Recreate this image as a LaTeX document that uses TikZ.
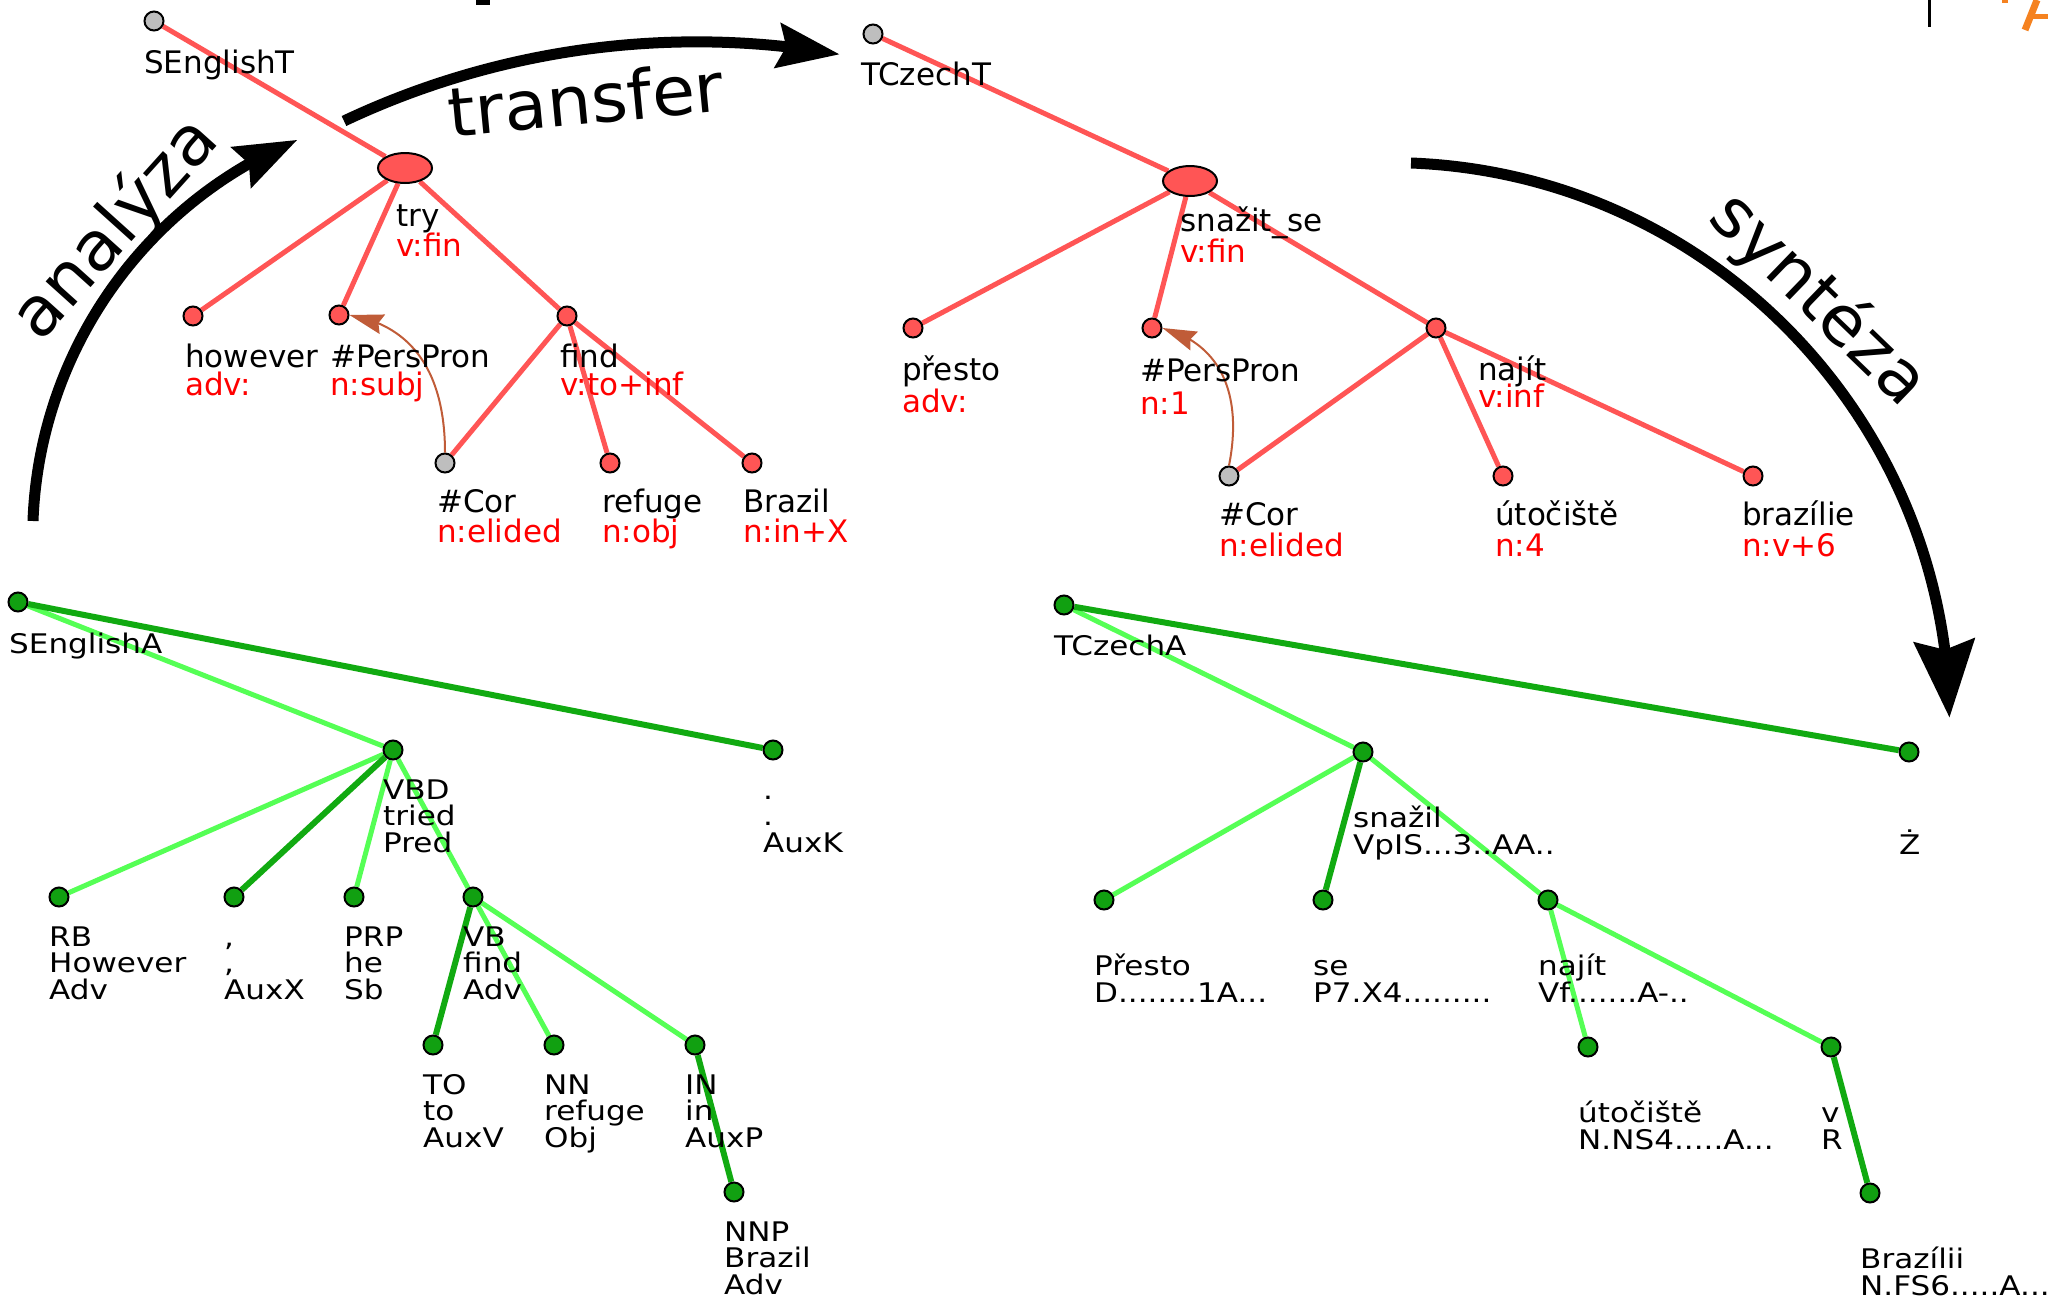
\documentclass[tikz,border=0pt]{standalone}
\usepackage{fontspec}
\setmainfont{DejaVu Sans}
\newfontfamily\afont{DejaVu Sans}[FakeStretch=1.15]
\newfontfamily\bigfont{DejaVu Sans}[FakeStretch=1.03]
\usetikzlibrary{arrows.meta,bending,shapes.geometric}
\pgfdeclarelayer{bg}
\pgfsetlayers{bg,main}
\definecolor{tred}{RGB}{255,85,85}
\definecolor{lgreen}{RGB}{85,255,85}
\definecolor{dgreen}{RGB}{17,170,17}
\definecolor{nfill}{RGB}{17,160,17}
\definecolor{ngray}{RGB}{190,190,190}
\definecolor{brownA}{RGB}{192,92,56}
\definecolor{orangeA}{RGB}{245,130,32}
\tikzset{
 tn/.style={circle,draw=black,line width=2pt,fill=tred,minimum size=19pt,inner sep=0pt},
 tg/.style={tn,fill=ngray},
 te/.style={ellipse,draw=black,line width=2pt,fill=tred,minimum width=54pt,minimum height=30pt,inner sep=0pt},
 an/.style={circle,draw=black,line width=2pt,fill=nfill,minimum size=19pt,inner sep=0pt},
 redge/.style={draw=tred,line width=5pt},
 ledge/.style={draw=lgreen,line width=5pt},
 dedge/.style={draw=dgreen,line width=6pt},
 tl/.style={anchor=base west,inner sep=0pt,font=\fontsize{31}{31}\selectfont},
 tlr/.style={tl,text=red},
 al/.style={anchor=base west,inner sep=0pt,font=\afont\fontsize{27}{27}\selectfont},
 big/.style={inner sep=0pt,font=\bigfont\fontsize{68}{68}\selectfont},
 bigarrow/.style={line width=11pt,-{Stealth[length=62pt,width=44pt,inset=8pt]}},
 bigarrowB/.style={line width=11pt,-{Stealth[length=77pt,width=60pt,inset=9pt]}},
 corefarrow/.style={draw=brownA,line width=2pt,-{Stealth[length=34pt,width=20pt,inset=4pt]}},
}
\newcommand\alab[4]{%
 \node[al] (#1-a) at ([shift={(-10,49)}]#1.center) {#2};
 \node[al] (#1-b) at ([shift={(-10,75.5)}]#1.center) {#3};
 \node[al] (#1-c) at ([shift={(-10,102)}]#1.center) {#4};}
\newcommand\clab[3]{%
 \node[al] (#1-b) at ([shift={(-10,75.5)}]#1.center) {#2};
 \node[al] (#1-c) at ([shift={(-10,102)}]#1.center) {#3};}
\begin{document}
\begin{tikzpicture}[x=1pt,y=-1pt]
\useasboundingbox (0,0) rectangle (2048,1299);

% ---------- English tectogrammatical tree ----------
\node[tg] (eT) at (154,21) {};
\node[te] (try) at (405,168) {};
\node[tn] (how) at (193,316) {};
\node[tn] (pp1) at (339,315) {};
\node[tn] (find) at (567,316) {};
\node[tg] (cor1) at (445,463) {};
\node[tn] (ref) at (610,463) {};
\node[tn] (braz1) at (752,463) {};
\begin{pgfonlayer}{bg}
\draw[redge] (eT) -- (try);
\draw[redge] (try) -- (how);
\draw[redge] (try) -- (pp1);
\draw[redge] (try) -- (find);
\draw[redge] (find) -- (cor1);
\draw[redge] (find) -- (ref);
\draw[redge] (find) -- (braz1);
\end{pgfonlayer}
\draw[corefarrow] (cor1.north) .. controls (445,370) and (410,325) .. (pp1.east);
\node[tl] (eT-l1) at (144,73) {SEnglishT};
\node[tl] (try-l1) at (396,226) {try};
\node[tlr] (try-l2) at (396,256) {v:fin};
\node[tl] (how-l1) at (185,367) {however};
\node[tlr] (how-l2) at (185,395) {adv:};
\node[tl] (pp1-l1) at (330,367) {\#PersPron};
\node[tlr] (pp1-l2) at (330,395) {n:subj};
\node[tl] (find-l1) at (560,367) {find};
\node[tlr] (find-l2) at (560,395) {v:to+inf};
\node[tl] (cor1-l1) at (437,512) {\#Cor};
\node[tlr] (cor1-l2) at (437,542) {n:elided};
\node[tl] (ref-l1) at (602,512) {refuge};
\node[tlr] (ref-l2) at (602,542) {n:obj};
\node[tl] (braz1-l1) at (743,512) {Brazil};
\node[tlr] (braz1-l2) at (743,542) {n:in+X};

% ---------- Czech tectogrammatical tree ----------
\node[tg] (cT) at (873,34) {};
\node[te] (snaz) at (1190,181) {};
\node[tn] (pres) at (913,328) {};
\node[tn] (pp2) at (1152,328) {};
\node[tn] (najit) at (1436,328) {};
\node[tg] (cor2) at (1229,476) {};
\node[tn] (utoc) at (1503,476) {};
\node[tn] (brazl) at (1753,476) {};
\begin{pgfonlayer}{bg}
\draw[redge] (cT) -- (snaz);
\draw[redge] (snaz) -- (pres);
\draw[redge] (snaz) -- (pp2);
\draw[redge] (snaz) -- (najit);
\draw[redge] (najit) -- (cor2);
\draw[redge] (najit) -- (utoc);
\draw[redge] (najit) -- (brazl);
\end{pgfonlayer}
\draw[corefarrow] (cor2.north) .. controls (1242,400) and (1225,345) .. (pp2.east);
\node[tl] (cT-l1) at (861,85) {TCzechT};
\node[tl] (snaz-l1) at (1180,231) {snažit\_se};
\node[tlr] (snaz-l2) at (1180,262) {v:fin};
\node[tl] (pres-l1) at (902,380) {přesto};
\node[tlr] (pres-l2) at (902,412) {adv:};
\node[tl] (pp2-l1) at (1140,381) {\#PersPron};
\node[tlr] (pp2-l2) at (1140,414) {n:1};
\node[tl] (najit-l1) at (1478,380) {najít};
\node[tlr] (najit-l2) at (1478,407) {v:inf};
\node[tl] (cor2-l1) at (1219,525) {\#Cor};
\node[tlr] (cor2-l2) at (1219,556) {n:elided};
\node[tl] (utoc-l1) at (1495,525) {útočiště};
\node[tlr] (utoc-l2) at (1495,556) {n:4};
\node[tl] (brazl-l1) at (1742,525) {brazílie};
\node[tlr] (brazl-l2) at (1742,556) {n:v+6};

% ---------- English analytical tree ----------
\node[an] (eA) at (18,602) {};
\node[an] (vbd) at (393,750) {};
\node[an] (auxk) at (773,750) {};
\node[an] (rb) at (59,897) {};
\node[an] (comma) at (234,897) {};
\node[an] (prp) at (354,897) {};
\node[an] (vb) at (473,897) {};
\node[an] (to) at (433,1045) {};
\node[an] (nn) at (554,1045) {};
\node[an] (in) at (695,1045) {};
\node[an] (nnp) at (734,1192) {};
\begin{pgfonlayer}{bg}
\draw[ledge] (eA) -- (vbd);
\draw[dedge] (eA) -- (auxk);
\draw[ledge] (vbd) -- (rb);
\draw[dedge] (vbd) -- (comma);
\draw[ledge] (vbd) -- (prp);
\draw[ledge] (vbd) -- (vb);
\draw[dedge] (vb) -- (to);
\draw[ledge] (vb) -- (nn);
\draw[ledge] (vb) -- (in);
\draw[dedge] (in) -- (nnp);
\end{pgfonlayer}
\node[al] (eA-l) at (9,653) {SEnglishA};
\alab{vbd}{VBD}{tried}{Pred}
\alab{auxk}{.}{.}{AuxK}
\alab{rb}{RB}{However}{Adv}
\alab{comma}{,}{,}{AuxX}
\alab{prp}{PRP}{he}{Sb}
\alab{vb}{VB}{find}{Adv}
\alab{to}{TO}{to}{AuxV}
\alab{nn}{NN}{refuge}{Obj}
\alab{in}{IN}{in}{AuxP}
\alab{nnp}{NNP}{Brazil}{Adv}

% ---------- Czech analytical tree ----------
\node[an] (cA) at (1064,605) {};
\node[an] (snazil) at (1363,752) {};
\node[an] (zz) at (1909,752) {};
\node[an] (Presto) at (1104,900) {};
\node[an] (se) at (1323,900) {};
\node[an] (najit2) at (1548,900) {};
\node[an] (utoc2) at (1588,1047) {};
\node[an] (vv) at (1831,1047) {};
\node[an] (Brazilii) at (1870,1193) {};
\begin{pgfonlayer}{bg}
\draw[ledge] (cA) -- (snazil);
\draw[dedge] (cA) -- (zz);
\draw[ledge] (snazil) -- (Presto);
\draw[dedge] (snazil) -- (se);
\draw[ledge] (snazil) -- (najit2);
\draw[ledge] (najit2) -- (utoc2);
\draw[ledge] (najit2) -- (vv);
\draw[dedge] (vv) -- (Brazilii);
\end{pgfonlayer}
\node[al] (cA-l) at (1054,655) {TCzechA};
\clab{snazil}{snažil}{VpIS...3..AA..}
\node[al] (zz-c) at ([shift={(-10,102)}]zz.center) {Ż};
\clab{Presto}{Přesto}{D........1A...}
\clab{se}{se}{P7.X4.........}
\clab{najit2}{najít}{Vf.......A-..}
\clab{utoc2}{útočiště}{N.NS4.....A...}
\clab{vv}{v}{R}
\clab{Brazilii}{Brazílii}{N.FS6.....A...}

% ---------- big arrows ----------
\coordinate (anaS) at (33,521);
\draw[bigarrow] (anaS) arc[start angle=182.1, end angle=247.4, radius=430];
\coordinate (trS) at (344,121);
\draw[bigarrow] (trS) arc[start angle=244.7, end angle=280.0, radius=825];
\coordinate (synS) at (1411,163);
\draw[bigarrowB] (synS) arc[start angle=272.2, end angle=359.5, radius=560];
\node[big, rotate=48] (txtAnalyza) at (116,229) {analýza};
\node[big, rotate=5.5, anchor=base] (txtTransfer) at (588,124) {transfer};
\node[big, rotate=-44] (txtSynteza) at (1818,300) {syntéza};

% ---------- cut-off fragments at the top edge ----------
\fill (476,0) rectangle (490,5);
\draw[line width=3pt] (1929,0) -- (1929,27);
\draw[orangeA, line width=7pt] (2025,30) -- (2037,0);
\draw[orangeA, line width=5pt] (2030,16) -- (2048,16);
\fill[orangeA] (2002,0) rectangle (2008,3);
\end{tikzpicture}
\end{document}
